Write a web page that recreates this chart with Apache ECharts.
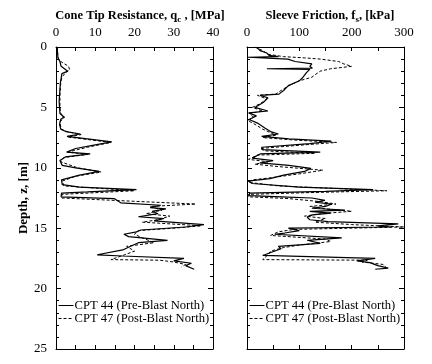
<!DOCTYPE html>
<html>
<head>
<meta charset="utf-8">
<script src="https://cdn.jsdelivr.net/npm/echarts@6/dist/echarts.min.js"></script>
<style>html,body{margin:0;padding:0;background:#fff}#c{width:432px;height:364px}</style>
</head>
<body>
<div id="c"></div>
<script>
const seriesNames = ['CPT 44 (Pre-Blast North)', 'CPT 47 (Post-Blast North)'];
const qTicks = [0, 10, 20, 30, 40];
const fTicks = [0, 100, 200, 300];
const depthTicks = [0, 5, 10, 15, 20, 25];

// Cone tip resistance, CPT 44 (solid)
const zQ44 = [0,0.5,0.9,1.2,1.6,2.0,2.2,2.6,3.0,3.5,4.0,4.5,5.0,5.5,5.8,6.0,6.4,6.8,7.0,7.2,7.4,7.6,7.85,8.1,8.4,8.7,8.85,9.1,9.4,9.8,10.0,10.3,10.6,11.0,11.4,11.6,11.8,12.0,12.1,12.4,12.55,12.9,13.1,13.3,13.4,13.6,13.8,14.05,14.2,14.4,14.7,14.9,15.15,15.3,15.5,15.7,16.0,16.2,16.5,16.8,17.2,17.3,17.5,17.7,17.9,18.1,18.4];
const q44 = [0.3,0.4,0.5,1.0,1.3,3.0,1.5,1.3,1.1,1.0,0.9,0.8,0.9,1.0,2.0,1.2,0.9,1.2,2.5,6.2,2.8,8.0,14.2,10.0,5.0,2.7,8.7,2.4,1.0,1.6,5.0,11.0,6.0,1.4,1.6,6.0,20.5,8.0,1.4,1.3,14.8,16.5,26.7,24.0,28.0,24.5,26.0,21.0,27.5,25.0,37.7,33.0,21.6,20.5,17.3,18.5,28.4,21.0,19.0,17.0,10.5,17.0,32.6,30.0,34.5,33.0,35.2];

// Cone tip resistance, CPT 47 (dashed)
const zQ47 = [0,0.9,1.2,1.6,1.9,2.1,2.5,3.0,4.0,5.0,5.5,5.8,6.2,6.8,7.0,7.25,7.45,7.9,8.3,8.7,8.9,9.15,9.5,10.0,10.35,10.7,11.1,11.5,11.9,12.2,12.5,12.7,13.0,13.2,13.5,13.8,14.0,14.3,14.5,14.8,15.0,15.2,15.5,15.8,16.2,16.5,16.9,17.2,17.6,17.65,17.8,18.0,18.2];
const q47 = [0.3,0.5,1.2,3.2,3.5,2.5,1.5,1.2,1.0,1.0,1.2,2.2,1.0,1.3,2.8,6.4,3.0,14.0,8.0,3.0,8.0,2.0,1.2,5.5,11.5,5.0,1.6,2.0,20.0,1.5,1.5,15.0,35.6,24.0,27.0,23.0,29.0,26.0,22.0,37.0,30.0,21.0,20.0,22.0,25.0,18.0,20.0,17.5,14.0,26.5,30.0,33.0,32.0];

// Sleeve friction, CPT 44 (solid)
const zF44 = [0,0.3,0.5,0.7,0.8,0.85,0.95,1.0,1.2,1.4,1.6,1.75,1.8,1.85,2.1,2.5,2.8,3.2,3.6,3.9,4.0,4.2,4.6,5.0,5.3,5.45,5.7,6.0,6.3,6.7,7.0,7.2,7.4,7.6,7.8,8.0,8.3,8.5,8.7,8.85,9.2,9.4,9.6,9.8,10.05,10.3,10.6,10.9,11.1,11.3,11.6,11.8,11.95,12.1,12.3,12.4,12.5,12.7,12.85,13.0,13.2,13.35,13.5,13.6,13.75,13.9,14.1,14.3,14.45,14.65,14.8,14.9,15.0,15.2,15.4,15.5,15.8,16.0,16.25,16.5,16.7,17.2,17.25,17.5,17.7,17.85,18.1,18.3,18.4];
const f44 = [18,25,38,42,60,2,5,78,92,124,120,125,38,120,114,107,100,79,70,61,25,40,31,15,40,3,18,4,20,34,45,60,28,80,161,120,28,30,140,25,10,50,25,80,122,110,70,44,2,10,100,241,150,5,4,66,124,149,130,162,150,124,187,120,160,125,115,120,155,289,250,275,79,100,72,53,181,115,140,60,65,34,30,245,210,235,250,270,245];

// Sleeve friction, CPT 47 (dashed)
const zF47 = [0,0.3,0.6,0.8,0.9,1.0,1.2,1.4,1.6,1.8,2.0,2.3,2.5,2.8,3.2,3.6,3.9,4.0,4.3,4.7,5.0,5.3,5.5,5.8,6.1,6.4,6.8,7.1,7.3,7.5,7.7,7.9,8.1,8.4,8.6,8.8,8.95,9.3,9.5,9.7,9.9,10.2,10.5,10.8,11.0,11.2,11.5,11.9,12.05,12.2,12.4,12.55,12.8,13.0,13.2,13.4,13.6,13.8,14.0,14.2,14.5,14.7,14.9,15.1,15.3,15.6,15.9,16.1,16.4,16.6,16.9,17.2,17.6,17.65,17.8,18.0,18.2];
const f47 = [15,30,40,70,110,140,175,185,200,160,140,130,124,100,80,65,55,20,38,25,10,30,5,12,2,15,30,45,55,30,90,171,110,25,35,130,20,3,40,15,60,145,100,50,10,3,60,267,120,3,2,80,140,170,120,150,200,140,110,150,130,200,300,90,60,45,150,160,100,70,45,40,30,230,220,260,265];

const zip = (xs, zs) => xs.map((v, i) => [v, zs[i]]);

const FONT = '"Liberation Serif", "Times New Roman", serif';
const black = '#000';

function xAx(grid, max, interval, top, showLabel) {
  return {
    type: 'value', gridIndex: grid, position: top ? 'top' : 'bottom',
    min: 0, max: max, interval: interval,
    axisLine: { show: true, onZero: false, lineStyle: { color: black, width: 1 } },
    axisTick: { show: true, inside: true, length: 4, lineStyle: { color: black } },
    minorTick: { show: true, splitNumber: 2, length: 4, lineStyle: { color: black } },
    splitLine: { show: false },
    axisLabel: { show: showLabel, margin: 8, color: black, fontFamily: FONT, fontSize: 13 }
  };
}
function yAx(grid, right, showLabel, name) {
  return {
    type: 'value', gridIndex: grid, position: right ? 'right' : 'left', inverse: true,
    min: 0, max: 25, interval: 5,
    axisLine: { show: true, onZero: false, lineStyle: { color: black, width: 1 } },
    axisTick: { show: true, inside: true, length: 5, lineStyle: { color: black } },
    minorTick: { show: true, splitNumber: 5, length: 3, lineStyle: { color: black } },
    splitLine: { show: false },
    axisLabel: { show: showLabel, margin: 9, color: black, fontFamily: FONT, fontSize: 13 },
    name: name || '', nameLocation: 'middle', nameRotate: 90, nameGap: 23,
    nameTextStyle: { color: black, fontFamily: FONT, fontSize: 13, fontWeight: 'bold' }
  };
}
function line(name, data, xi, yi, dashed) {
  return {
    type: 'line', name: name, data: data, xAxisIndex: xi, yAxisIndex: yi,
    symbol: 'none', animation: false, clip: true,
    lineStyle: { color: black, width: dashed ? 1 : 1.2, type: dashed ? [3, 2] : 'solid' },
    itemStyle: { color: black }
  };
}
function legendAt(left) {
  return {
    left: left, top: 299, orient: 'vertical', itemGap: 0, itemWidth: 15, itemHeight: 13, padding: 0,
    itemStyle: { color: 'rgba(0,0,0,0)', borderColor: 'rgba(0,0,0,0)', borderWidth: 0, opacity: 0 },
    lineStyle: { width: 1 },
    textStyle: { color: black, fontFamily: FONT, fontSize: 12.6, lineHeight: 13, padding: [0, 0, 0, -4] },
    data: seriesNames
  };
}
const chart = echarts.init(document.getElementById('c'), null, { renderer: 'canvas' });
const richT = {
  b: { fontFamily: FONT, fontSize: 12.5, fontWeight: 'bold', color: black },
  s: { fontFamily: FONT, fontSize: 9, fontWeight: 'bold', color: black, padding: [7, 0, 0, 0] }
};
chart.setOption({
  animation: false,
  backgroundColor: '#fff',
  title: [
    { text: '{b|Cone Tip Resistance, q}{s|c}{b| , [MPa]}', left: 135, top: 3, textAlign: 'center',
      textStyle: { rich: richT } },
    { text: '{b|Sleeve Friction, f}{s|s}{b|, [kPa]}', left: 325, top: 3, textAlign: 'center',
      textStyle: { rich: richT } }
  ],
  grid: [
    { left: 56, top: 47, width: 157, height: 302 },
    { left: 247, top: 47, width: 157, height: 302 }
  ],
  xAxis: [
    xAx(0, 40, 10, true, true), xAx(0, 40, 10, false, false),
    xAx(1, 300, 100, true, true), xAx(1, 300, 100, false, false)
  ],
  yAxis: [
    yAx(0, false, true, 'Depth, z, [m]'), yAx(0, true, false),
    yAx(1, false, false), yAx(1, true, false)
  ],
  legend: [legendAt(58), legendAt(249)],
  series: [
    line(seriesNames[0], zip(q44, zQ44), 0, 0, false),
    line(seriesNames[1], zip(q47, zQ47), 0, 0, true),
    line(seriesNames[0], zip(f44, zF44), 2, 2, false),
    line(seriesNames[1], zip(f47, zF47), 2, 2, true)
  ]
});
</script>
</body>
</html>
